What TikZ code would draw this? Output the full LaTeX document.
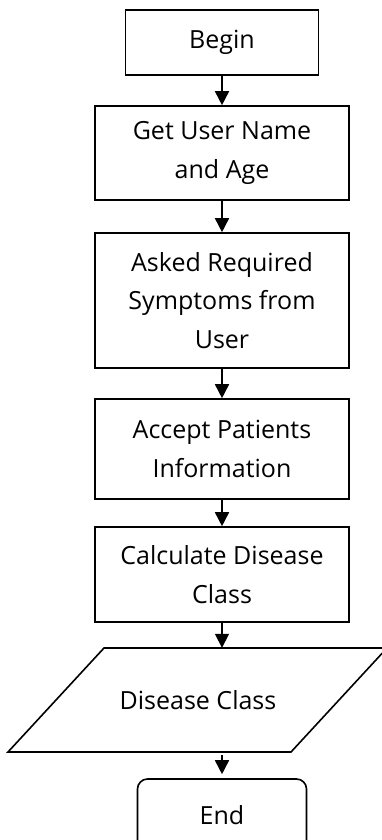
\documentclass[tikz,border=0pt]{standalone}
\usepackage{fontspec}
\setmainfont{Open Sans}
\usetikzlibrary{arrows.meta}
\begin{document}
\begin{tikzpicture}[x=1pt,y=-1pt,
  box/.style={draw, line width=1.6pt, minimum width=254pt, align=center, inner sep=0pt, font=\fontsize{25}{38.7}\selectfont},
  flow/.style={-{Triangle[length=14pt,width=14pt]}, line width=1.6pt}]
  \useasboundingbox (0,0) rectangle (382,840);
  % steps
  \node[box, minimum width=193pt, minimum height=65pt] (begin) at (222,42.5) {Begin};
  \node[box, minimum height=94pt] (user) at (222,153) {Get User Name\\and Age};
  \node[box, minimum height=135pt] (asked) at (222,300.5) {Asked Required\\Symptoms from\\User};
  \node[box, minimum height=100pt] (accept) at (222,449) {Accept Patients\\Information};
  \node[box, minimum height=95pt] (calc) at (222,574.5) {Calculate Disease\\Class};
  \node[font=\fontsize{25}{38.7}\selectfont, minimum height=104pt, inner sep=0pt] (out) at (198,700) {Disease Class};
  \draw[line width=1.6pt] (104,648) -- (387,648) -- (291,752) -- (8,752) -- cycle;
  \node[box, rounded corners=10pt, minimum width=169pt, minimum height=72pt] (end) at (222,815) {End};
  % arrows
  \draw[flow] (begin) -- (user);
  \draw[flow] (user) -- (asked);
  \draw[flow] (asked) -- (accept);
  \draw[flow] (accept) -- (calc);
  \draw[flow] (calc.south) -- (calc.south |- out.north);
  \draw[flow, shorten <=3pt, shorten >=4pt] (out.south -| end.north) -- (end.north);
\end{tikzpicture}
\end{document}
